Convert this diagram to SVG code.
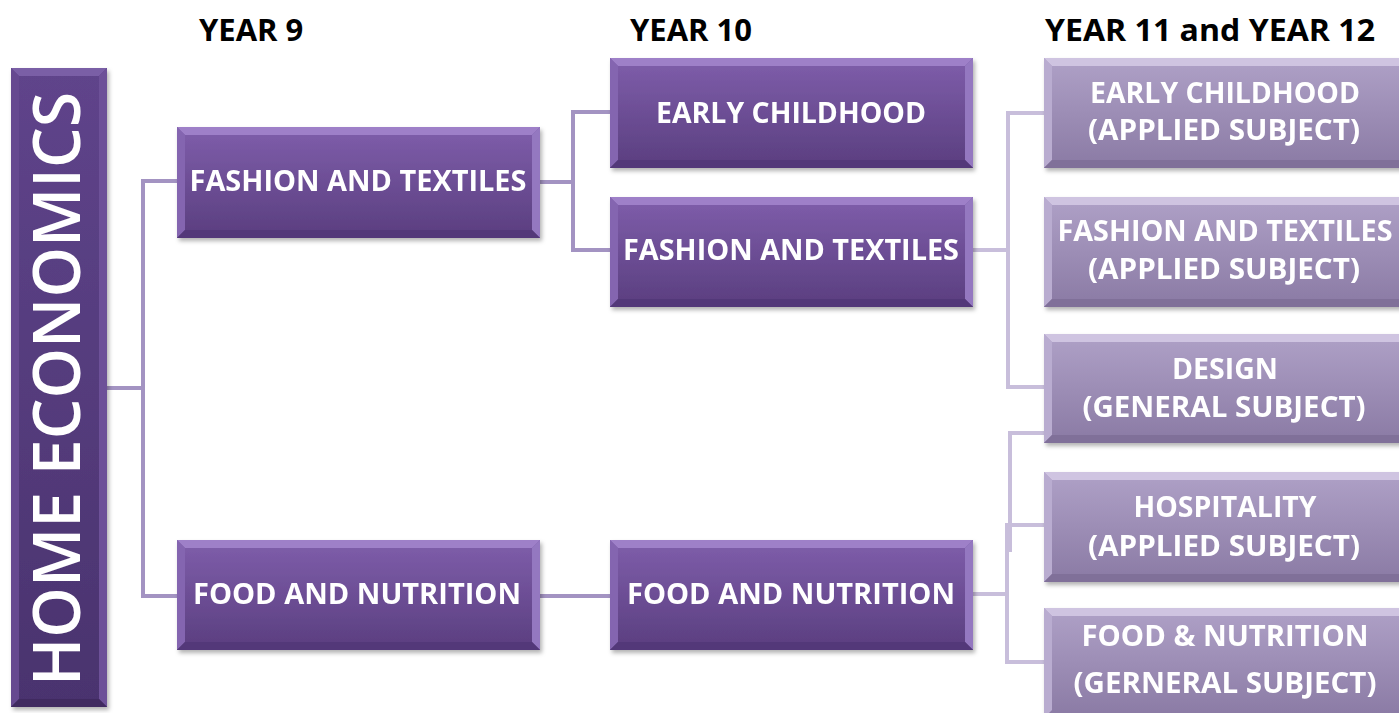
<svg xmlns="http://www.w3.org/2000/svg" width="1399" height="713" viewBox="0 0 1399 713">
<style>
.lbl{font-family:"Open Sans","Liberation Sans",sans-serif;font-weight:bold;font-size:28px;fill:#ffffff;text-anchor:middle}
.rl{font-size:28px}
.yr{font-family:"Open Sans","Liberation Sans",sans-serif;font-weight:bold;font-size:31px;fill:#000000}
.c1{fill:none;stroke:#a393c2;stroke-width:4}
.c2{fill:none;stroke:#c8bedb;stroke-width:4}
.d .bt{fill:#9e80c8}.d .bl{fill:#8465b0}.d .br{fill:#9478c0}.d .bb{fill:#533879}
.h .bt{fill:#7a5ea6}.h .bl{fill:#664a90}.h .br{fill:#6d5198}.h .bb{fill:#402a61}
.l .bt{fill:#cfc4e1}.l .bl{fill:#b9acd0}.l .br{fill:#c3b8d8}.l .bb{fill:#807099}
</style>
<defs>
<linearGradient id="gd" x1="0" y1="0" x2="0" y2="1"><stop offset="0" stop-color="#7f5eab"/><stop offset="1" stop-color="#5a3e7f"/></linearGradient>
<linearGradient id="gh" x1="0" y1="0" x2="0" y2="1"><stop offset="0" stop-color="#5f448b"/><stop offset="1" stop-color="#4a336e"/></linearGradient>
<linearGradient id="gl" x1="0" y1="0" x2="0" y2="1"><stop offset="0" stop-color="#afa1c7"/><stop offset="1" stop-color="#8a7aa4"/></linearGradient>
<filter id="sh" x="-5%" y="-5%" width="115%" height="120%"><feDropShadow dx="2" dy="3" stdDeviation="2" flood-color="#000" flood-opacity="0.3"/></filter>
</defs>
<rect width="1399" height="713" fill="#ffffff"/>

<g id="headers">
<text class="yr" x="199" y="41">YEAR 9</text>
<text class="yr" x="630" y="41">YEAR 10</text>
<text class="yr" x="1045" y="41" textLength="330" lengthAdjust="spacingAndGlyphs">YEAR 11 and YEAR 12</text>
</g>

<g id="connectors">
<path class="c1" d="M107 388 H143 M177 181 H143 V596 H177"/>
<path class="c1" d="M540 182 H573 M610 112 H573 V250 H610"/>
<path class="c1" d="M540 596 H610"/>
<path class="c2" d="M973 250 H1008 M1044 113 H1008 V387 H1044"/>
<path class="c2" d="M973 594 H1007 M1044 433 H1010 V552 M1044 525 H1007 V662 H1044"/>
</g>

<g id="home-economics" class="h" filter="url(#sh)">
<rect x="11" y="68" width="96" height="639" fill="url(#gh)"/>
<polygon class="bt" points="11,68 107,68 99,76 19,76"/>
<polygon class="bl" points="11,68 19,76 19,699 11,707"/>
<polygon class="br" points="107,68 107,707 99,699 99,76"/>
<polygon class="bb" points="11,707 107,707 99,699 19,699"/>
<text transform="translate(80,389) rotate(-90)" font-family="Open Sans, Liberation Sans, sans-serif" font-weight="600" font-size="66" fill="#ffffff" text-anchor="middle" textLength="594" lengthAdjust="spacingAndGlyphs">HOME ECONOMICS</text>
</g>

<g id="y9-fashion" class="d" filter="url(#sh)">
<rect x="177" y="127" width="363" height="111" fill="url(#gd)"/>
<polygon class="bt" points="177,127 540,127 532,135 185,135"/>
<polygon class="bl" points="177,127 185,135 185,230 177,238"/>
<polygon class="br" points="540,127 540,238 532,230 532,135"/>
<polygon class="bb" points="177,238 540,238 532,230 185,230"/>
<text class="lbl" x="358" y="191" textLength="337" lengthAdjust="spacingAndGlyphs">FASHION AND TEXTILES</text>
</g>

<g id="y9-food" class="d" filter="url(#sh)">
<rect x="177" y="540" width="363" height="110" fill="url(#gd)"/>
<polygon class="bt" points="177,540 540,540 532,548 185,548"/>
<polygon class="bl" points="177,540 185,548 185,642 177,650"/>
<polygon class="br" points="540,540 540,650 532,642 532,548"/>
<polygon class="bb" points="177,650 540,650 532,642 185,642"/>
<text class="lbl" x="357" y="604" textLength="328" lengthAdjust="spacingAndGlyphs">FOOD AND NUTRITION</text>
</g>

<g id="y10-early" class="d" filter="url(#sh)">
<rect x="610" y="58" width="363" height="110" fill="url(#gd)"/>
<polygon class="bt" points="610,58 973,58 965,66 618,66"/>
<polygon class="bl" points="610,58 618,66 618,160 610,168"/>
<polygon class="br" points="973,58 973,168 965,160 965,66"/>
<polygon class="bb" points="610,168 973,168 965,160 618,160"/>
<text class="lbl" x="791" y="123" textLength="270" lengthAdjust="spacingAndGlyphs">EARLY CHILDHOOD</text>
</g>

<g id="y10-fashion" class="d" filter="url(#sh)">
<rect x="610" y="197" width="363" height="110" fill="url(#gd)"/>
<polygon class="bt" points="610,197 973,197 965,205 618,205"/>
<polygon class="bl" points="610,197 618,205 618,299 610,307"/>
<polygon class="br" points="973,197 973,307 965,299 965,205"/>
<polygon class="bb" points="610,307 973,307 965,299 618,299"/>
<text class="lbl" x="791" y="260" textLength="336" lengthAdjust="spacingAndGlyphs">FASHION AND TEXTILES</text>
</g>

<g id="y10-food" class="d" filter="url(#sh)">
<rect x="610" y="540" width="363" height="110" fill="url(#gd)"/>
<polygon class="bt" points="610,540 973,540 965,548 618,548"/>
<polygon class="bl" points="610,540 618,548 618,642 610,650"/>
<polygon class="br" points="973,540 973,650 965,642 965,548"/>
<polygon class="bb" points="610,650 973,650 965,642 618,642"/>
<text class="lbl" x="791" y="604" textLength="328" lengthAdjust="spacingAndGlyphs">FOOD AND NUTRITION</text>
</g>

<g id="r-early" class="l" filter="url(#sh)">
<rect x="1044" y="58" width="365" height="110" fill="url(#gl)"/>
<polygon class="bt" points="1044,58 1409,58 1401,66 1052,66"/>
<polygon class="bl" points="1044,58 1052,66 1052,160 1044,168"/>
<polygon class="bb" points="1044,168 1409,168 1401,160 1052,160"/>
<text class="lbl rl" x="1225" y="103" textLength="270" lengthAdjust="spacingAndGlyphs">EARLY CHILDHOOD</text>
<text class="lbl rl" x="1224" y="140" textLength="272" lengthAdjust="spacingAndGlyphs">(APPLIED SUBJECT)</text>
</g>

<g id="r-fashion" class="l" filter="url(#sh)">
<rect x="1044" y="197" width="365" height="110" fill="url(#gl)"/>
<polygon class="bt" points="1044,197 1409,197 1401,205 1052,205"/>
<polygon class="bl" points="1044,197 1052,205 1052,299 1044,307"/>
<polygon class="bb" points="1044,307 1409,307 1401,299 1052,299"/>
<text class="lbl rl" x="1225" y="241" textLength="335" lengthAdjust="spacingAndGlyphs">FASHION AND TEXTILES</text>
<text class="lbl rl" x="1224" y="279" textLength="272" lengthAdjust="spacingAndGlyphs">(APPLIED SUBJECT)</text>
</g>

<g id="r-design" class="l" filter="url(#sh)">
<rect x="1044" y="334" width="365" height="109" fill="url(#gl)"/>
<polygon class="bt" points="1044,334 1409,334 1401,342 1052,342"/>
<polygon class="bl" points="1044,334 1052,342 1052,435 1044,443"/>
<polygon class="bb" points="1044,443 1409,443 1401,435 1052,435"/>
<text class="lbl rl" x="1225" y="379" textLength="106" lengthAdjust="spacingAndGlyphs">DESIGN</text>
<text class="lbl rl" x="1224" y="417" textLength="283" lengthAdjust="spacingAndGlyphs">(GENERAL SUBJECT)</text>
</g>

<g id="r-hospitality" class="l" filter="url(#sh)">
<rect x="1044" y="472" width="365" height="110" fill="url(#gl)"/>
<polygon class="bt" points="1044,472 1409,472 1401,480 1052,480"/>
<polygon class="bl" points="1044,472 1052,480 1052,574 1044,582"/>
<polygon class="bb" points="1044,582 1409,582 1401,574 1052,574"/>
<text class="lbl rl" x="1225" y="517" textLength="183" lengthAdjust="spacingAndGlyphs">HOSPITALITY</text>
<text class="lbl rl" x="1224" y="556" textLength="272" lengthAdjust="spacingAndGlyphs">(APPLIED SUBJECT)</text>
</g>

<g id="r-food" class="l" filter="url(#sh)">
<rect x="1044" y="608" width="365" height="110" fill="url(#gl)"/>
<polygon class="bt" points="1044,608 1409,608 1401,616 1052,616"/>
<polygon class="bl" points="1044,608 1052,616 1052,710 1044,718"/>
<text class="lbl rl" x="1225" y="646" textLength="287" lengthAdjust="spacingAndGlyphs">FOOD &amp; NUTRITION</text>
<text class="lbl rl" x="1225" y="693" textLength="303" lengthAdjust="spacingAndGlyphs">(GERNERAL SUBJECT)</text>
</g>
</svg>
